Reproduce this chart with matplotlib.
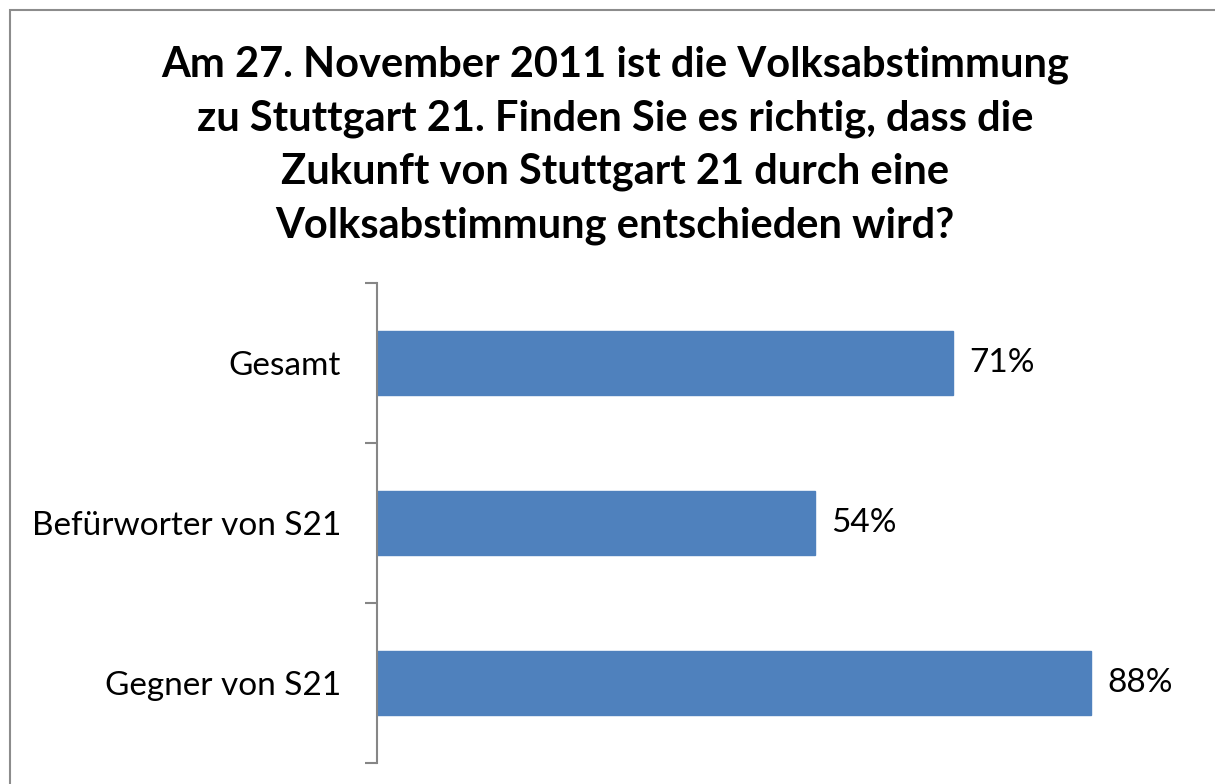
import matplotlib.pyplot as plt
from matplotlib.patches import Rectangle

# data
categories = ["Gesamt", "Befürworter von S21", "Gegner von S21"]
values = [71, 54, 88]
title = ("Am 27. November 2011 ist die Volksabstimmung\n"
         "zu Stuttgart 21. Finden Sie es richtig, dass die\n"
         "Zukunft von Stuttgart 21 durch eine\n"
         "Volksabstimmung entschieden wird?")

plt.rcParams["font.family"] = ["Lato", "DejaVu Sans"]

W, H = 1215, 784
fig = plt.figure(figsize=(W / 100, H / 100), dpi=100)

# chart border (cut off at right and bottom like the original)
fig.patches.append(Rectangle((10 / W, -0.1), 1.2, 1 - 10 / H + 0.1,
                             transform=fig.transFigure, fill=False,
                             edgecolor="#8c8c8c", linewidth=1.5))

ax = fig.add_axes([377 / W, 1 - 763 / H, (1188 - 377) / W, (763 - 283) / H])

pos = list(range(len(categories)))
ax.barh(pos, values, height=0.4, color="#4f81bd", edgecolor="#4f81bd")
ax.set_xlim(0, 100)
ax.set_ylim(len(categories) - 0.5, -0.5)

for p, v in zip(pos, values):
    ax.annotate(f"{v}%", (v, p), xytext=(12, 0), textcoords="offset points",
                va="center", ha="left", fontsize=24)

ax.set_yticks(pos)
ax.set_yticklabels(categories, fontsize=24)
ax.tick_params(axis="y", which="major", length=0, pad=26)
ax.set_yticks([p - 0.5 for p in pos] + [len(pos) - 0.5], minor=True)
ax.tick_params(axis="y", which="minor", length=9, width=1.5, color="#868686")
ax.set_xticks([])

for s in ["top", "right", "bottom"]:
    ax.spines[s].set_visible(False)
ax.spines["left"].set_color("#868686")
ax.spines["left"].set_linewidth(1.5)

fig.text(0.506, 1 - 46 / H, title, ha="center", va="top", fontsize=30,
         fontweight="bold", linespacing=1.48)

fig.savefig("out.png", dpi=100)
